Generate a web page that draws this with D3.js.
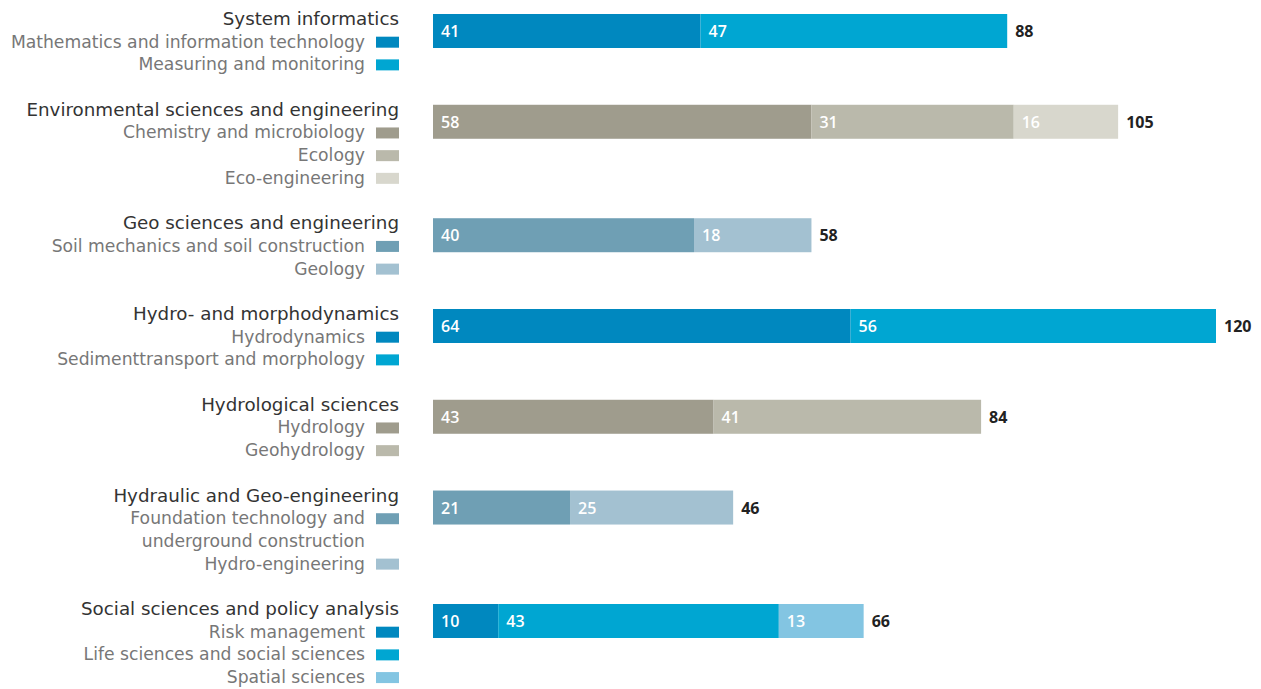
<!DOCTYPE html>
<html>
<head>
<meta charset="utf-8">
<script src="https://d3js.org/d3.v7.min.js"></script>
<style>
  body { margin: 0; background: #fff; }
  svg { display: block; font-family: "Open Sans", "Noto Sans", sans-serif; }
  .lbl { font-family: "DejaVu Sans", sans-serif; }
</style>
</head>
<body>
<div id="chart"></div>
<script>
// Group titles
const groups = [
  "System informatics",
  "Environmental sciences and engineering",
  "Geo sciences and engineering",
  "Hydro- and morphodynamics",
  "Hydrological sciences",
  "Hydraulic and Geo-engineering",
  "Social sciences and policy analysis"
];

// Sub categories per group ("\n" = forced line break)
const subLabels = [
  ["Mathematics and information technology", "Measuring and monitoring"],
  ["Chemistry and microbiology", "Ecology", "Eco-engineering"],
  ["Soil mechanics and soil construction", "Geology"],
  ["Hydrodynamics", "Sedimenttransport and morphology"],
  ["Hydrology", "Geohydrology"],
  ["Foundation technology and\nunderground construction", "Hydro-engineering"],
  ["Risk management", "Life sciences and social sciences", "Spatial sciences"]
];

// Values per sub category
const values = [
  [41, 47],
  [58, 31, 16],
  [40, 18],
  [64, 56],
  [43, 41],
  [21, 25],
  [10, 43, 13]
];

// colour palettes
const blues = ["#0088bf", "#00a6d2", "#83c5e2"];
const greys = ["#9f9c8d", "#bab9ab", "#d8d7cd"];
const slates = ["#6f9fb4", "#a3c1d1"];
const palettes = [blues, greys, slates, blues, greys, slates, blues];

const width = 1261, height = 689;
const labelRight = 399, swatchW = 23, swatchH = 11;
const barH = 34;

const svg = d3.select("#chart").append("svg")
  .attr("width", width).attr("height", height);

// work out text rows: title, sub lines, blank row between groups
const layout = [];
let row = 0;
groups.forEach((g, i) => {
  const item = { title: g, titleRow: row, subs: [] };
  row += 1;
  subLabels[i].forEach((s, j) => {
    const lines = s.split("\n");
    item.subs.push({ lines, row, value: values[i][j], color: palettes[i][j] });
    row += lines.length;
  });
  layout.push(item);
  row += 1;
});

// baseline of each text row
const yRow = d3.scaleLinear().domain([0, 26]).range([25, 615]);
const x = d3.scaleLinear().domain([0, 120]).range([433, 1216]);

const grp = svg.selectAll("g.group").data(layout).enter().append("g").attr("class", "group");

grp.append("text")
  .attr("class", "lbl")
  .attr("x", labelRight)
  .attr("y", d => yRow(d.titleRow))
  .attr("text-anchor", "end")
  .attr("font-size", 18.3)
  .attr("fill", "#333")
  .text(d => d.title);

grp.each(function (d, i) {
  const g = d3.select(this);
  const subs = g.selectAll("g.sub").data(d.subs).enter().append("g");
  subs.append("text")
    .attr("class", "lbl")
    .attr("x", labelRight - swatchW - 11)
    .attr("y", s => yRow(s.row))
    .attr("text-anchor", "end")
    .attr("font-size", 17.2)
    .attr("fill", "#777")
    .selectAll("tspan").data(s => s.lines).enter().append("tspan")
    .attr("x", labelRight - swatchW - 11)
    .attr("dy", (l, k) => k === 0 ? 0 : yRow(1) - yRow(0))
    .text(l => l);
  subs.append("rect")
    .attr("x", labelRight - swatchW)
    .attr("y", s => yRow(s.row) - swatchH)
    .attr("width", swatchW)
    .attr("height", swatchH)
    .attr("fill", s => s.color);

  // stacked bar
  const barTop = yRow(d.titleRow) - 11;
  let cum = 0;
  const segs = d.subs.map(s => { const o = { ...s, x0: cum, x1: cum + s.value }; cum += s.value; return o; });
  g.selectAll("rect.seg").data(segs).enter().append("rect")
    .attr("class", "seg")
    .attr("x", s => x(s.x0))
    .attr("y", barTop)
    .attr("width", s => x(s.x1) - x(s.x0))
    .attr("height", barH)
    .attr("fill", s => s.color);
  g.selectAll("text.val").data(segs).enter().append("text")
    .attr("class", "val")
    .attr("x", s => x(s.x0) + 8)
    .attr("y", barTop + barH / 2 + 6)
    .attr("font-size", 16)
    .attr("font-weight", 600)
    .attr("fill", "#fff")
    .text(s => s.value);
  g.append("text")
    .attr("x", x(cum) + 8)
    .attr("y", barTop + barH / 2 + 6)
    .attr("font-size", 16)
    .attr("font-weight", 700)
    .attr("fill", "#222")
    .text(cum);
});
</script>
</body>
</html>
